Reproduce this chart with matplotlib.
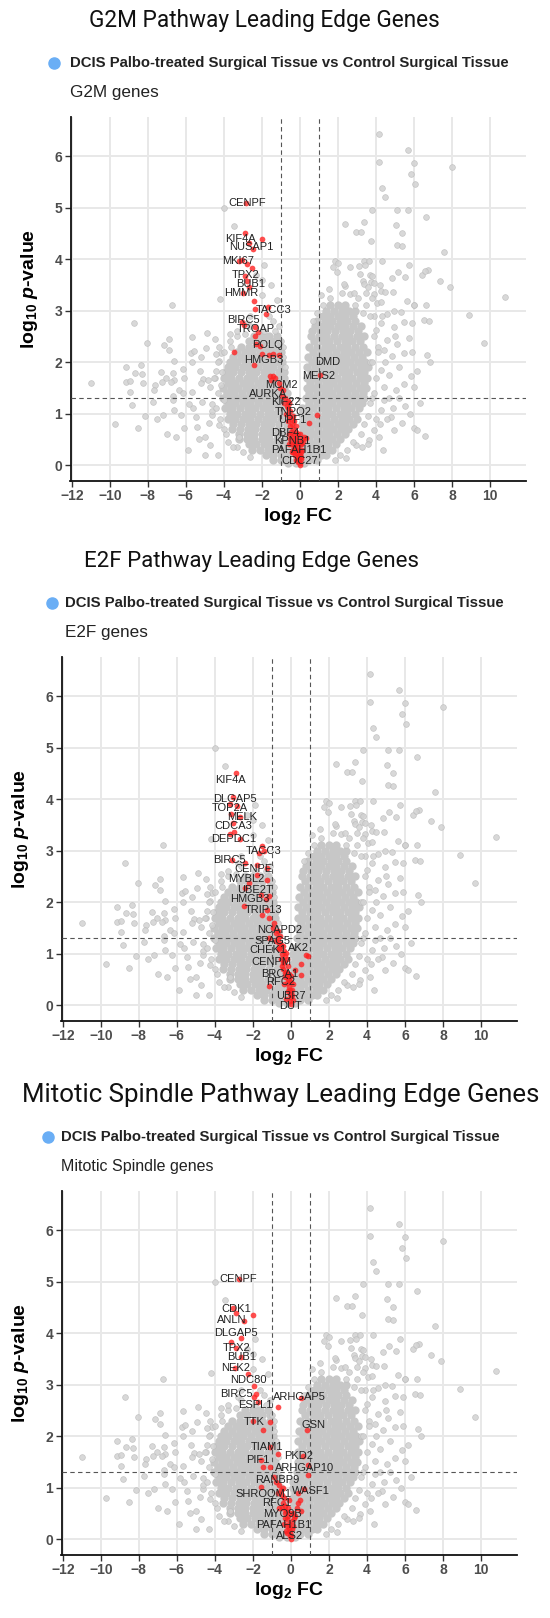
import matplotlib
matplotlib.use("Agg")
import matplotlib.pyplot as plt
from matplotlib.lines import Line2D

plt.rcParams['mathtext.fontset'] = 'custom'
plt.rcParams['mathtext.rm'] = 'Liberation Sans'
plt.rcParams['mathtext.bf'] = 'Liberation Sans:bold'
plt.rcParams['mathtext.it'] = 'Liberation Sans:bold:italic'

# ---------------- data ----------------
panel_titles = ["G2M Pathway Leading Edge Genes",
                "E2F Pathway Leading Edge Genes",
                "Mitotic Spindle Pathway Leading Edge Genes"]
legend_label = "DCIS Palbo-treated Surgical Tissue vs Control Surgical Tissue"
subtitles = ["G2M genes", "E2F genes", "Mitotic Spindle genes"]
x_ticks = [-12, -10, -8, -6, -4, -2, 0, 2, 4, 6, 8, 10]
y_ticks = [0, 1, 2, 3, 4, 5, 6]
fc_cut = 1.0
p_cut = 1.3

# dense core of the background cloud (rows: log10 p, list of log2 FC)
core_rows = [
    (2.5, [-2.4, -2.0, -1.6, -1.2]),
    (2.4, [-2.7, -2.3, -1.9, -1.5, -1.1]),
    (2.3, [-3.1, -2.7, -2.3, -1.9, -1.5, -1.1]),
    (2.2, [-3.3, -2.9, -2.5, -2.1, -1.7, -1.3, -1.0]),
    (2.1, [-3.5, -3.1, -2.7, -2.3, -1.9, -1.5, -1.1]),
    (2.0, [-3.7, -3.3, -2.9, -2.5, -2.1, -1.7, -1.3, -0.95]),
    (1.9, [-3.8, -3.4, -3.0, -2.6, -2.2, -1.8, -1.4, -1.0]),
    (1.8, [-3.9, -3.5, -3.1, -2.7, -2.3, -1.9, -1.5, -1.1, -0.85]),
    (1.7, [-4.0, -3.6, -3.2, -2.8, -2.4, -2.0, -1.6, -1.2, -0.85]),
    (1.6, [-3.8, -3.4, -3.0, -2.6, -2.2, -1.8, -1.4, -1.0]),
    (1.5, [-4.05, -3.65, -3.25, -2.85, -2.45, -2.05, -1.65, -1.25, -0.85]),
    (1.4, [-3.85, -3.45, -3.05, -2.65, -2.25, -1.85, -1.45, -1.05, -0.7]),
    (1.3, [-4.05, -3.65, -3.25, -2.85, -2.45, -2.05, -1.65, -1.25, -0.85]),
    (1.2, [-3.8, -3.4, -3.0, -2.6, -2.2, -1.8, -1.4, -1.0, -0.6]),
    (1.1, [-3.95, -3.55, -3.15, -2.75, -2.35, -1.95, -1.55, -1.15, -0.75]),
    (1.0, [-3.7, -3.3, -2.9, -2.5, -2.1, -1.7, -1.3, -0.9, -0.5]),
    (0.9, [-3.8, -3.4, -3.0, -2.6, -2.2, -1.8, -1.4, -1.0, -0.6]),
    (0.8, [-3.5, -3.1, -2.7, -2.3, -1.9, -1.5, -1.1, -0.7, -0.4]),
    (0.7, [-3.55, -3.15, -2.75, -2.35, -1.95, -1.55, -1.15, -0.75, -0.35]),
    (0.6, [-3.2, -2.8, -2.4, -2.0, -1.6, -1.2, -0.8, -0.4]),
    (0.5, [-3.2, -2.8, -2.4, -2.0, -1.6, -1.2, -0.8, -0.4]),
    (0.4, [-2.7, -2.3, -1.9, -1.5, -1.1, -0.7, -0.3]),
    (0.3, [-2.5, -2.1, -1.7, -1.3, -0.9, -0.5, -0.15]),
    (0.2, [-1.8, -1.4, -1.0, -0.6, -0.2]),
    (0.1, [-1.4, -1.0, -0.6, -0.2, 0.1]),
    (0.03, [-0.6, -0.2, 0.2]),
    (3.1, [1.6, 2.0, 2.4]),
    (3.0, [1.4, 1.8, 2.2, 2.6, 2.9]),
    (2.9, [1.2, 1.6, 2.0, 2.4, 2.8]),
    (2.8, [0.9, 1.3, 1.7, 2.1, 2.5, 2.9]),
    (2.7, [0.8, 1.2, 1.6, 2.0, 2.4, 2.8, 3.2]),
    (2.6, [0.65, 1.05, 1.45, 1.85, 2.25, 2.65, 3.05]),
    (2.5, [0.6, 1.0, 1.4, 1.8, 2.2, 2.6, 3.0, 3.4]),
    (2.4, [0.75, 1.15, 1.55, 1.95, 2.35, 2.75, 3.15]),
    (2.3, [0.5, 0.9, 1.3, 1.7, 2.1, 2.5, 2.9, 3.3]),
    (2.2, [0.7, 1.1, 1.5, 1.9, 2.3, 2.7, 3.1, 3.55]),
    (2.1, [0.45, 0.85, 1.25, 1.65, 2.05, 2.45, 2.85, 3.25]),
    (2.0, [0.65, 1.05, 1.45, 1.85, 2.25, 2.65, 3.05, 3.45]),
    (1.9, [0.4, 0.8, 1.2, 1.6, 2.0, 2.4, 2.8, 3.2, 3.6]),
    (1.8, [0.6, 1.0, 1.4, 1.8, 2.2, 2.6, 3.0, 3.4]),
    (1.7, [0.35, 0.75, 1.15, 1.55, 1.95, 2.35, 2.75, 3.15, 3.55]),
    (1.6, [0.55, 0.95, 1.35, 1.75, 2.15, 2.55, 2.95, 3.35]),
    (1.5, [0.35, 0.75, 1.15, 1.55, 1.95, 2.35, 2.75, 3.15, 3.5]),
    (1.4, [0.5, 0.9, 1.3, 1.7, 2.1, 2.5, 2.9, 3.3]),
    (1.3, [0.3, 0.7, 1.1, 1.5, 1.9, 2.3, 2.7, 3.1, 3.4]),
    (1.2, [0.5, 0.9, 1.3, 1.7, 2.1, 2.5, 2.9, 3.25]),
    (1.1, [0.1, 0.3, 0.7, 1.1, 1.5, 1.9, 2.3, 2.7, 3.1]),
    (1.0, [0.1, 0.5, 0.9, 1.3, 1.7, 2.1, 2.5, 2.9]),
    (0.9, [0.2, 0.6, 1.0, 1.4, 1.8, 2.2, 2.6, 3.0]),
    (0.8, [0.1, 0.4, 0.8, 1.2, 1.6, 2.0, 2.4, 2.8]),
    (0.7, [0.15, 0.55, 0.95, 1.35, 1.75, 2.15, 2.55]),
    (0.6, [0.1, 0.35, 0.75, 1.15, 1.55, 1.95, 2.35]),
    (0.5, [0.1, 0.5, 0.9, 1.3, 1.7, 2.1]),
    (0.4, [0.1, 0.3, 0.7, 1.1, 1.5, 1.9]),
    (0.3, [0.1, 0.5, 0.9, 1.3, 1.7]),
    (0.2, [0.1, 0.3, 0.7, 1.1, 1.4]),
    (0.1, [0.15, 0.5, 0.9]),
]

# scattered background genes (log2 FC, log10 p)
bg_fc = [4.17, 5.70, 4.16, 6.02, 8.03, 5.84, 6.05, 4.30, 4.49, 3.81, 5.11, 5.67, 6.66, 2.35, 3.39, 2.94, 3.20,
         5.06, 5.37, 3.72, 5.10, 5.36, 7.60, 1.83, 2.00, 1.74, 1.97, 2.63, 3.10, 3.36, 3.65, 3.43, 4.30, 5.74,
         5.17, 5.53, 4.87, 6.42, 6.73, 6.60, 7.39, 7.90, 10.82, 3.18, 3.70, 3.80, 3.30, 3.38, 2.35, 2.30, 3.76,
         3.92, 3.57, 1.55, 1.60, 2.21, 2.66, 2.87, 3.06, 3.46, 3.88, 3.81, 4.26, 4.47, 4.89, 4.07, 4.28, 5.65,
         6.03, 6.64, 1.13,
         -4.0, -3.48, -1.91, -4.2, -2.3, -1.6, -1.3, -2.6, -3.3, -3.6, -1.0, -0.9, -2.0,
         8.9, 9.70, 6.52, 6.82, 6.0, 5.30, 4.96, 4.61, 5.91, 5.48, 4.96, 4.26, 4.0, 5.74, 5.13, 4.61, 5.91, 5.48,
         4.87, 4.43, 6.70, 6.83, 6.14, 5.83, 6.03, 5.48, 5.04, 4.43, 4.70, 4.26, 5.22, 5.51, 5.39, 6.0, 6.18,
         6.56, 4.43, 4.26, 4.78, 3.92, 3.65, 4.17, 3.25, 2.96, 2.44, 1.83, 4.96, 3.9, 4.1, 3.8, 4.0, 3.7,
         -6.73, -8.75, -10.99, -8.05, -7.13, -6.90, -6.87, -6.61, -5.70, -5.74, -5.57, -5.18, -4.87, -4.92,
         -4.47, -4.26, -4.14, -4.23, -5.70, -9.13, -8.38, -8.66, -8.30, -9.13, -8.92, -8.26, -7.60, -7.70,
         -7.30, -7.04, -6.70, -6.61, -6.17, -6.09, -6.35, -6.78, -7.25, -5.25, -5.10, -4.82, -4.75, -4.47,
         -4.43, -4.17, -4.09, -5.65, -6.17, -6.70, -8.92, -8.83, -8.17, -7.74, -7.22, -6.70, -6.61, -6.26,
         -6.09, -5.91, -5.48, -5.39, -4.78, -4.75, -4.26, -4.61, -9.74, -8.52, -3.91, -3.30, -3.22, -5.83,
         -5.13, -4.61, -4.0, -4.4, -4.6, -5.0, -3.7, -2.8,
         3.7, 3.9, 4.1, 3.8, 4.0, 3.9, 3.7, 3.6, 3.4, 3.2, 2.8, 2.5, 2.1, 4.5, 4.7, 4.9, 5.2, 4.6, 4.2,
         3.5, 3.3, 1.2, 0.9, 0.7, 2.9, 3.6, 4.4, 5.8, 6.3, 5.0, 4.3, 4.2,
         -4.3, -4.4, -4.2, -4.0, -3.8, -3.5, -3.0, -2.6, -4.5, -4.3, -4.0, -3.7, -3.3, -2.9, -2.6, -1.9,
         -1.4, -1.2, -1.5, -2.0, -1.1, -0.9, -0.8, -0.7, -5.3, -5.0, -4.3, -6.5, -7.0, -7.5, -5.6, -5.2]
bg_p = [6.43, 6.12, 5.88, 5.87, 5.79, 5.66, 5.46, 5.39, 5.21, 4.96, 4.96, 4.96, 4.82, 4.69, 4.72, 4.52, 4.52,
        4.66, 4.51, 4.35, 4.27, 4.26, 4.14, 3.97, 3.93, 3.84, 3.74, 3.85, 3.86, 3.97, 3.97, 3.88, 3.97, 3.88,
        3.75, 3.65, 3.63, 3.69, 3.79, 3.77, 3.57, 3.45, 3.26, 3.71, 3.70, 3.68, 3.58, 3.52, 3.48, 3.51, 3.55,
        3.54, 3.45, 3.42, 3.25, 3.35, 3.33, 3.35, 3.25, 3.35, 3.32, 3.24, 3.39, 3.36, 3.37, 3.15, 3.16, 3.19,
        3.10, 3.11, 3.30,
        5.00, 4.64, 3.88, 3.23, 3.70, 2.90, 2.60, 2.90, 2.50, 2.30, 2.40, 2.10, 3.30,
        2.92, 2.37, 2.81, 2.80, 3.11, 2.98, 3.00, 2.93, 2.75, 2.78, 2.69, 2.75, 2.62, 2.46, 2.36, 2.43, 2.20, 2.17,
        2.11, 2.24, 2.14, 2.00, 1.83, 1.72, 1.52, 1.57, 1.46, 1.52, 1.75, 1.85, 1.91, 1.14, 0.81, 0.71, 0.69,
        0.57, 1.26, 1.07, 0.94, 0.68, 0.48, 0.55, 0.36, 0.39, 0.13, 0.10, 0.68, 2.9, 2.3, 1.3, 0.9, 2.0,
        3.10, 2.76, 1.59, 2.38, 2.33, 2.44, 2.23, 2.02, 2.48, 2.18, 2.21, 2.10, 2.56, 2.28,
        2.44, 2.30, 2.18, 2.03, 2.00, 1.91, 1.94, 1.79, 1.77, 1.62, 1.64, 1.60, 1.55, 1.45,
        1.81, 1.70, 1.78, 1.65, 1.86, 1.70, 1.45, 1.62, 1.62, 1.83, 1.68, 1.65, 1.52, 1.70,
        1.83, 1.55, 1.81, 1.42, 1.39, 1.34, 1.42, 1.16, 0.95, 1.22, 0.97, 1.26, 1.06, 0.97,
        0.72, 0.30, 0.94, 0.73, 0.81, 0.39, 0.77, 0.97, 0.79, 0.72, 0.61, 0.35, 0.55, 1.19,
        1.23, 1.19, 1.26, 2.15, 1.05, 0.55, 2.55, 2.75,
        2.9, 2.5, 2.2, 2.0, 1.7, 1.4, 1.2, 0.95, 0.8, 0.6, 0.45, 0.3, 0.2, 2.0, 1.3, 1.1, 1.3, 0.9, 0.8,
        3.1, 2.95, 3.1, 2.95, 2.8, 3.1, 0.4, 0.3, 1.0, 1.2, 2.5, 2.9, 3.5,
        1.4, 1.1, 0.9, 0.7, 0.45, 0.35, 0.25, 0.15, 1.7, 2.0, 2.2, 2.4, 2.6, 2.55, 2.7, 2.6,
        2.8, 3.2, 3.5, 3.6, 2.7, 2.3, 1.9, 1.6, 0.5, 0.2, 0.2, 0.55, 0.6, 0.9, 1.1, 1.6]

# highlighted leading-edge genes, panel 1 (G2M)
g2m_fc = [-2.84, -2.88, -2.0, -2.7, -2.47, -3.05, -3.2, -2.8, -2.53, -2.88, -2.8, -2.7, -3.0, -2.4, -2.35,
          -1.7, -1.77, -3.05, -2.95, -2.35, -2.18, -2.35, -2.3, -2.08, -3.46, -2.0, -1.65, -1.4, -1.12, -2.4,
          -1.56, -1.4, -1.12, -1.04, -0.9, -0.95, -0.8, -0.85, -0.7, -0.6, -0.75, -0.55, -0.45, -0.6, -0.4,
          -0.5, -0.35, -0.45, -0.3, -0.4, -0.25, -0.3, -0.15, -0.25, -0.1, -0.2, -0.05, -0.15, 0.0, -0.1, 0.05,
          -0.05, 0.0, 0.03, 0.1, 0.15, 0.2, 0.3, 0.46, 0.9, 1.04, 0.0, -0.55, -0.2, -0.35, 0.05,
          -0.65, -0.55, -0.5, -0.35, -0.3, -0.2, -0.55, -0.5, -0.45, -0.35, -0.25, -0.15, -0.08, 0.05, 0.08,
          0.1, -0.1, -0.2, 0.0, 0.05, -0.15, -0.3, -0.4, -1.3, -1.5]
g2m_p = [5.08, 4.50, 4.39, 4.32, 4.19, 3.98, 3.97, 3.90, 3.83, 3.68, 3.58, 3.45, 3.34, 3.19, 3.03,
         3.06, 2.94, 2.77, 2.72, 2.68, 2.58, 2.50, 2.35, 2.32, 2.19, 2.16, 2.13, 2.16, 2.13, 1.94,
         1.72, 1.72, 1.60, 1.50, 1.45, 1.35, 1.30, 1.20, 1.15, 1.10, 1.00, 0.95, 0.90, 0.85, 0.80,
         0.75, 0.70, 0.65, 0.60, 0.55, 0.50, 0.45, 0.42, 0.38, 0.35, 0.30, 0.28, 0.22, 0.20, 0.15, 0.12,
         0.08, 0.03, 0.00, 0.30, 0.45, 0.55, 0.52, 0.81, 0.98, 1.74, 0.60, 0.40, 0.10, 0.25, 0.40,
         1.25, 1.20, 1.05, 0.95, 0.85, 0.75, 0.60, 0.50, 0.40, 0.30, 0.20, 0.10, 0.05, 0.25, 0.40,
         0.50, 0.60, 0.65, 0.45, 0.15, 0.55, 0.35, 0.25, 1.70, 1.65]
g2m_names = ["CENPF", "KIF4A", "NUSAP1", "MKI67", "TPX2", "BUB1", "HMMR", "TACC3", "BIRC5", "TROAP",
             "POLQ", "HMGB3", "DMD", "MEIS2", "MCM2", "AURKA", "KIF22", "TNPO2", "UPF1", "DBF4",
             "KPNB1", "PAFAH1B1", "CDC27"]
g2m_lab_fc = [-2.77, -3.12, -2.56, -3.25, -2.85, -2.6, -3.07, -1.37, -2.97, -2.32, -1.68, -1.92, 1.45,
              1.0, -0.95, -1.65, -0.72, -0.36, -0.38, -0.75, -0.4, -0.05, 0.0]
g2m_lab_p = [5.08, 4.39, 4.24, 3.97, 3.70, 3.52, 3.35, 3.01, 2.82, 2.65, 2.34, 2.04, 2.01, 1.73, 1.56,
             1.38, 1.22, 1.03, 0.87, 0.63, 0.47, 0.30, 0.07]

# panel 2 (E2F)
e2f_fc = [-2.89, -3.05, -3.20, -2.84, -3.16, -2.70, -3.02, -3.20, -2.98, -2.66, -1.50, -1.41, -1.68, -3.11,
          -2.39, -1.77, -1.23, -1.77, -1.23, -2.21, -2.39, -1.59, -1.14, -1.32, -2.48, -1.23, -1.50, -1.14,
          -0.88, -0.96, -0.70, -1.14, -0.79, -0.52, -0.61, -0.25, 0.82, 0.91, -0.43, -0.16, 0.55, 0.20, 0.02,
          0.55, -1.14, -0.45, -0.5, -0.35, -0.4, -0.25, -0.3, -0.15, -0.2, -0.1, -0.15, -0.05, 0.0, -0.05,
          0.02, 0.08, 0.12, -0.6, -0.7, -0.55, -0.3, -0.1, 0.0,
          -0.8, -0.65, -0.4, -0.35, -0.2, -0.45, -0.3, -0.2, -0.1, 0.05, -0.05, 0.1, -0.25, -0.35]
e2f_p = [4.50, 4.05, 3.90, 3.86, 3.72, 3.66, 3.53, 3.32, 3.37, 3.22, 3.09, 3.00, 2.95, 2.82,
         2.75, 2.72, 2.66, 2.53, 2.43, 2.37, 2.27, 2.14, 2.11, 2.05, 1.92, 1.85, 1.75, 1.69,
         1.59, 1.50, 1.43, 1.30, 1.24, 1.17, 1.08, 1.01, 0.98, 0.95, 0.82, 0.75, 0.79, 0.69, 0.56,
         0.59, 0.37, 1.00, 0.90, 0.85, 0.70, 0.65, 0.55, 0.50, 0.42, 0.35, 0.28, 0.22, 0.15, 0.08,
         0.02, 0.30, 0.40, 1.20, 1.30, 1.35, 0.95, 0.60, 0.45,
         1.40, 1.10, 1.15, 1.05, 0.90, 0.75, 0.62, 0.58, 0.48, 0.20, 0.30, 0.10, 0.12, 0.40]
e2f_names = ["KIF4A", "DLGAP5", "TOP2A", "MELK", "CDCA3", "DEPDC1", "TACC3", "BIRC5", "CENPE", "MYBL2",
             "UBE2T", "HMGB3", "TRIP13", "NCAPD2", "SPAG5", "CHEK1", "AK2", "CENPM", "BRCA1", "RFC2",
             "UBR7", "DUT"]
e2f_lab_fc = [-3.2, -2.96, -3.2, -2.57, -3.02, -3.02, -1.41, -3.25, -1.95, -2.34, -1.89, -2.16, -1.45,
              -0.61, -0.96, -1.23, 0.42, -1.05, -0.61, -0.55, 0.02, -0.04]
e2f_lab_p = [4.38, 4.01, 3.83, 3.66, 3.48, 3.23, 3.00, 2.81, 2.64, 2.45, 2.24, 2.05, 1.85,
             1.46, 1.25, 1.07, 1.11, 0.84, 0.61, 0.44, 0.17, -0.01]

# panel 3 (Mitotic spindle)
ms_fc = [-2.75, -3.07, -1.98, -2.89, -2.46, -2.63, -3.16, -2.9, -2.63, -2.93, -2.28, -1.93, -1.84, -1.96,
         -1.75, -0.7, 0.53, -1.09, -1.49, -2.0, 0.84, -1.1, -0.7, -1.58, -1.49, -1.09, 0.65, 0.88, 0.88,
         -1.58, -0.8, 0.7, -0.9, -0.6, -0.5, -0.45, -0.35, -0.4, -0.3, -0.25, -0.3, -0.15, -0.2, -0.1,
         -0.12, -0.05, 0.0, 0.02, 0.1, 0.15, 0.3, 0.5, 0.55, 0.35, -0.6, -0.7, -0.2, 0.05, -0.05,
         -0.45, -0.3, -0.2, -0.15, -0.05, 0.05, -0.35, -0.25, 0.1, 0.2, 0.4, -0.1, -0.4]
ms_p = [5.06, 4.49, 4.36, 4.40, 4.24, 3.91, 3.82, 3.72, 3.54, 3.33, 3.20, 2.98, 2.82, 2.76,
        2.67, 2.57, 2.74, 2.28, 2.12, 2.30, 2.12, 1.78, 1.65, 1.53, 1.40, 1.40, 1.62, 1.43, 1.24,
        1.02, 1.10, 0.98, 1.20, 1.05, 0.95, 0.85, 0.80, 0.70, 0.65, 0.55, 0.50, 0.45, 0.38, 0.30,
        0.22, 0.15, 0.08, 0.00, 0.25, 0.40, 0.60, 0.75, 0.55, 0.90, 0.60, 0.90, 0.12, 0.35, 0.50,
        0.60, 0.40, 0.25, 0.60, 0.05, 0.20, 0.30, 0.15, 0.50, 0.45, 0.70, 0.75, 1.00]
ms_names = ["CENPF", "CDK1", "ANLN", "DLGAP5", "TPX2", "BUB1", "NEK2", "NDC80", "BIRC5", "ESPL1",
            "ARHGAP5", "TTK", "GSN", "TIAM1", "PKD2", "PIF1", "ARHGAP10", "RANBP9", "SHROOM1", "WASF1",
            "RFC1", "MYO9B", "PAFAH1B1", "ALS2"]
ms_lab_fc = [-2.77, -2.89, -3.1, -2.89, -2.84, -2.58, -2.93, -2.23, -2.89, -1.88, 0.47, -1.93, 1.18,
             -1.23, 0.4, -1.75, 0.7, -0.7, -1.46, 1.05, -0.75, -0.45, -0.35, -0.05]
ms_lab_p = [5.06, 4.46, 4.25, 4.01, 3.72, 3.53, 3.32, 3.09, 2.82, 2.60, 2.76, 2.28, 2.22,
            1.78, 1.61, 1.53, 1.38, 1.14, 0.87, 0.93, 0.70, 0.48, 0.28, 0.05]

panels = [
    (g2m_fc, g2m_p, g2m_names, g2m_lab_fc, g2m_lab_p),
    (e2f_fc, e2f_p, e2f_names, e2f_lab_fc, e2f_lab_p),
    (ms_fc, ms_p, ms_names, ms_lab_fc, ms_lab_p),
]

core_fc = [x for (y, xs) in core_rows for x in xs]
core_p = [y for (y, xs) in core_rows for x in xs]

# ---------------- layout ----------------
W, H = 550, 1618
fig = plt.figure(figsize=(W / 100, H / 100), dpi=100)
fig.patch.set_facecolor("white")

def rect(l, t, r, b):
    return [l / W, 1 - b / H, (r - l) / W, (b - t) / H]

tops = [0, 540, 1074]
dxs = [0, -9, -9]
title_cx = [264, 251, 281]
title_fs = [16.3, 16.0, 18.6]
leg_dot_x = [54, 52, 48]
leg_txt_x = [70, 65, 61]
sub_fs = [12.3, 12.3, 11.5]

GRAY_CORE = "#c7c7c7"
RED = "#ff2222"

for i, (rfc, rp, names, lfc, lp) in enumerate(panels):
    T, dx = tops[i], dxs[i]
    fig.text(title_cx[i] / W, 1 - (21 + T) / H, panel_titles[i], ha="center", va="center",
             fontsize=title_fs[i], family="Roboto", color="#111111")
    fig.add_artist(Line2D([leg_dot_x[i] / W], [1 - (63 + T) / H], marker="o", markersize=8,
                          color="#6aaef5", transform=fig.transFigure))
    fig.text(leg_txt_x[i] / W, 1 - (63 + T) / H, legend_label, ha="left", va="center",
             fontsize=10.7, fontweight="bold", family="Liberation Sans", color="#222222")
    fig.text(leg_txt_x[i] / W, 1 - (93 + T) / H, subtitles[i], ha="left", va="center",
             fontsize=sub_fs[i], family="Liberation Sans", color="#222222")

    ax = fig.add_axes(rect(70.5 + dx, 117 + T, 526 + dx, 481 + T))
    ax.set_xlim(-12.07, 11.9)
    ax.set_ylim(-0.31, 6.76)
    ax.set_facecolor("white")
    ax.set_xticks(x_ticks)
    ax.set_yticks(y_ticks)
    ax.grid(True, color="#e8e8e8", linewidth=1.4, zorder=0)
    ax.set_axisbelow(True)
    for s in ["top", "right"]:
        ax.spines[s].set_visible(False)
    for s in ["left", "bottom"]:
        ax.spines[s].set_linewidth(1.3)
        ax.spines[s].set_color("#111111")
    ax.tick_params(length=4, width=1.0, color="#333333", labelsize=10, labelcolor="#4d4d4d", pad=2)
    for lab in ax.get_xticklabels() + ax.get_yticklabels():
        lab.set_fontweight("bold")
        lab.set_family("Liberation Sans")

    ax.scatter(core_fc, core_p, s=36, color=GRAY_CORE, linewidths=0, zorder=2)
    ax.scatter(bg_fc, bg_p, s=17, facecolor="#d2d2d2", edgecolor="#bdbdbd", linewidths=0.5,
               alpha=0.85, zorder=2)
    ax.axvline(-fc_cut, color="#555555", linestyle=(0, (4, 3)), linewidth=0.8, zorder=3)
    ax.axvline(fc_cut, color="#555555", linestyle=(0, (4, 3)), linewidth=0.8, zorder=3)
    ax.axhline(p_cut, color="#555555", linestyle=(0, (4, 3)), linewidth=0.8, zorder=3)
    ax.scatter(rfc, rp, s=17, color=RED, alpha=0.8, linewidths=0, zorder=4)
    for n, x, y in zip(names, lfc, lp):
        ax.text(x, y, n, ha="center", va="center", fontsize=8, family="Liberation Sans",
                color="#222222", zorder=5)

    ax.set_xlabel(r"$\mathbf{log_{2}}$ FC", fontsize=14, fontweight="bold",
                  family="Liberation Sans", labelpad=2)
    ax.set_ylabel(r"$\mathbf{log_{10}}$ $\mathit{p}$-value", fontsize=14, fontweight="bold",
                  family="Liberation Sans")
    ax.yaxis.set_label_coords(-0.068, 0.527)

fig.savefig("out.png", dpi=100, facecolor="white")
